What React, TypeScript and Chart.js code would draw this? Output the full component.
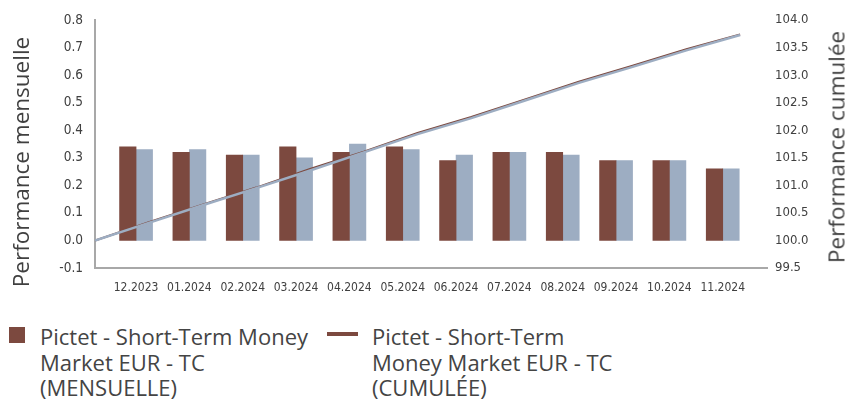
import React, { useEffect, useRef } from "react";
import { Chart, registerables } from "chart.js";

Chart.register(...registerables);

const months = ["12.2023", "01.2024", "02.2024", "03.2024", "04.2024", "05.2024", "06.2024", "07.2024", "08.2024", "09.2024", "10.2024", "11.2024"];
const fundMonthly = [0.34, 0.32, 0.31, 0.34, 0.32, 0.34, 0.29, 0.32, 0.32, 0.29, 0.29, 0.26];
const benchMonthly = [0.33, 0.33, 0.31, 0.30, 0.35, 0.33, 0.31, 0.32, 0.31, 0.29, 0.29, 0.26];
const fundCumulative = [100.0, 100.33, 100.65, 100.96, 101.30, 101.61, 101.95, 102.24, 102.56, 102.88, 103.17, 103.47, 103.74];
const benchCumulative = [100.0, 100.32, 100.64, 100.95, 101.27, 101.60, 101.93, 102.22, 102.54, 102.86, 103.15, 103.45, 103.73];
const leftTicks = { min: -0.1, max: 0.8, step: 0.1 };
const rightTicks = { min: 99.5, max: 104.0, step: 0.5 };

const legendFund = ["Pictet - Short-Term Money", "Market EUR - TC", "(MENSUELLE)"];
const legendCum = ["Pictet - Short-Term", "Money Market EUR - TC", "(CUMULÉE)"];
const leftTitle = "Performance mensuelle";
const rightTitle = "Performance cumulée";

const BROWN = "#7C493F";
const BLUE = "#9DADC2";
const TICK_FAMILY = "'Liberation Sans Narrow', 'DejaVu Sans Condensed', sans-serif";
const TEXT_COLOR = "#404040";
const AXIS_COLOR = "#a8a8a8";

export default function App() {
  const ref = useRef<HTMLCanvasElement | null>(null);

  useEffect(() => {
    if (!ref.current) return;
    const chart = new Chart(ref.current, {
      type: "bar",
      data: {
        datasets: [
          {
            type: "line",
            label: "bench cum",
            data: benchCumulative.map((v, i) => ({ x: i, y: v })),
            xAxisID: "x2",
            yAxisID: "y2",
            borderColor: BLUE,
            borderWidth: 2.5,
            pointRadius: 0,
            order: 0,
          } as any,
          {
            type: "line",
            label: "fund cum",
            data: fundCumulative.map((v, i) => ({ x: i, y: v })),
            xAxisID: "x2",
            yAxisID: "y2",
            borderColor: BROWN,
            borderWidth: 2,
            pointRadius: 0,
            order: 1,
          } as any,
          {
            type: "bar",
            label: "fund",
            data: fundMonthly.map((v, i) => ({ x: i, y: v })),
            xAxisID: "x",
            yAxisID: "y",
            backgroundColor: BROWN,
            barThickness: 16.5,
            order: 2,
          } as any,
          {
            type: "bar",
            label: "bench",
            data: benchMonthly.map((v, i) => ({ x: i, y: v })),
            xAxisID: "x",
            yAxisID: "y",
            backgroundColor: BLUE,
            barThickness: 16.5,
            order: 3,
          } as any,
        ],
      },
      options: {
        animation: false,
        responsive: false,
        maintainAspectRatio: false,
        layout: { padding: { top: 20, left: 0, right: 0, bottom: 0 } },
        plugins: { legend: { display: false }, tooltip: { enabled: false } },
        scales: {
          x: {
            type: "linear",
            position: "bottom",
            min: -0.77,
            max: 11.83,
            offset: false,
            grid: { display: false, drawTicks: false, offset: false },
            border: { display: true, color: AXIS_COLOR, width: 2 },
            ticks: {
              stepSize: 1,
              includeBounds: false,
              autoSkip: false,
              maxRotation: 0,
              padding: 13,
              color: TEXT_COLOR,
              font: { family: TICK_FAMILY, size: 12 },
              callback: (v: any) => (Number.isInteger(v) && months[v] !== undefined ? months[v] : ""),
            },
            afterFit: (s: any) => { s.height = 32; },
          },
          x2: {
            type: "linear",
            display: false,
            offset: false,
            grid: { offset: false },
            min: 0,
            max: 12.5,
          },
          y: {
            type: "linear",
            position: "left",
            min: leftTicks.min,
            max: leftTicks.max,
            grid: { display: false, drawTicks: false },
            border: { display: true, color: AXIS_COLOR, width: 2 },
            ticks: {
              stepSize: leftTicks.step,
              padding: 12,
              color: TEXT_COLOR,
              font: { family: TICK_FAMILY, size: 13.5 },
              callback: (v: any) => Number(v).toFixed(1),
            },
            afterFit: (s: any) => { s.width = 95; },
          },
          y2: {
            type: "linear",
            position: "right",
            min: rightTicks.min,
            max: rightTicks.max,
            grid: { display: false, drawTicks: false },
            border: { display: false },
            ticks: {
              stepSize: rightTicks.step,
              padding: 8,
              color: TEXT_COLOR,
              font: { family: TICK_FAMILY, size: 13 },
              callback: (v: any) => Number(v).toFixed(1),
            },
            afterFit: (s: any) => { s.width = 85; },
          },
        },
      },
    });
    return () => chart.destroy();
  }, []);

  const legendText: React.CSSProperties = {
    position: "absolute",
    fontFamily: "'Open Sans', 'Noto Sans', sans-serif",
    fontSize: 22,
    lineHeight: "25.5px",
    color: "#444",
    whiteSpace: "nowrap",
  };
  const titleStyle: React.CSSProperties = {
    position: "absolute",
    fontFamily: "'Open Sans', 'Noto Sans', sans-serif",
    fontSize: 22.5,
    color: "#404040",
    whiteSpace: "nowrap",
    transform: "translate(-50%, -50%) rotate(-90deg)",
  };

  return (
    <div style={{ position: "absolute", left: 0, top: 0, width: 852, height: 401, background: "#fff", overflow: "hidden" }}>
      <canvas ref={ref} width={852} height={300} style={{ position: "absolute", left: 0, top: 0, width: 852, height: 300 }} />
      <div style={{ ...titleStyle, left: 20, top: 162 }}>{leftTitle}</div>
      <div style={{ ...titleStyle, left: 836, top: 147 }}>{rightTitle}</div>
      <div style={{ position: "absolute", left: 9, top: 327, width: 16, height: 16, background: BROWN }} />
      <div style={{ ...legendText, left: 40, top: 324 }}>
        {legendFund.map((t, i) => (<div key={i}>{t}</div>))}
      </div>
      <div style={{ position: "absolute", left: 327, top: 332, width: 31, height: 4, background: BROWN }} />
      <div style={{ ...legendText, left: 372, top: 324 }}>
        {legendCum.map((t, i) => (<div key={i}>{t}</div>))}
      </div>
    </div>
  );
}
